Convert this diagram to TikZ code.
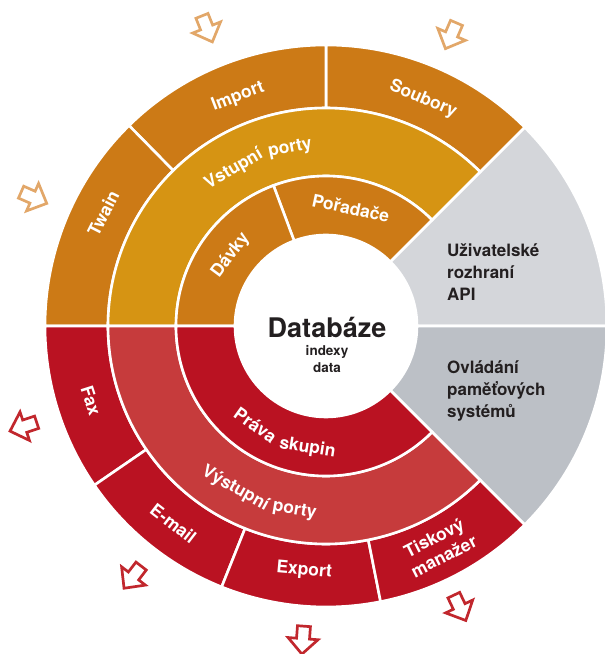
\documentclass[tikz,border=0pt]{standalone}
\usepackage{fontspec}
\setmainfont{TeX Gyre Heros}
\definecolor{orangeA}{HTML}{CC7A16}
\definecolor{orangeB}{HTML}{D69413}
\definecolor{redA}{HTML}{BA1222}
\definecolor{redB}{HTML}{C63B3C}
\definecolor{grayA}{HTML}{D4D6DA}
\definecolor{grayB}{HTML}{BCC0C6}
\definecolor{arrO}{HTML}{E2A769}
\definecolor{arrR}{HTML}{C1272D}
\definecolor{txtD}{HTML}{231F20}
\newcommand\lblfont{\fontsize{17.5}{20}\selectfont\bfseries}
\newcommand\ringsect[5]{%
  \filldraw[fill=#1, draw=white, line width=2.6pt, line join=miter]
   (#2:#4) arc[start angle=#2, end angle=#3, radius=#4] -- (#3:#5)
   arc[start angle=#3, end angle=#2, radius=#5] -- cycle;}
\newcommand\blockarrow[4]{%
  \draw[#3, line width=2.7pt, line join=miter, shift={(#1:#2)}, rotate={#1+#4}]
   (-14,6.5) -- (-1.5,6.5) -- (-1.5,15) -- (14,0) -- (-1.5,-15) -- (-1.5,-6.5) -- (-14,-6.5) -- cycle;}
\tikzset{graytxt/.style={anchor=base west, inner sep=0pt, text=txtD,
  font=\fontsize{17}{20}\selectfont\bfseries},
  centertxt/.style={anchor=base, inner sep=0pt, text=txtD},
  lbl/.style={anchor=base, inner sep=0pt, text=white, font=\lblfont}}
\begin{document}
\begin{tikzpicture}[x=1pt,y=1pt]
\useasboundingbox (-326,-328) rectangle (279,326);
% gray
\ringsect{grayA}{0}{45}{91}{281}
\ringsect{grayB}{-45}{0}{91}{281}
% top half
\ringsect{orangeA}{45}{90}{218}{281}
\ringsect{orangeA}{90}{134.5}{218}{281}
\ringsect{orangeA}{134.5}{180}{218}{281}
\ringsect{orangeB}{45}{180}{150}{218}
\ringsect{orangeA}{45}{110.5}{91}{150}
\ringsect{orangeA}{110.5}{180}{91}{150}
% bottom half
\ringsect{redA}{180}{214.5}{218}{281}
\ringsect{redA}{214.5}{248.2}{218}{281}
\ringsect{redA}{248.2}{281.2}{218}{281}
\ringsect{redA}{281.2}{315}{218}{281}
\ringsect{redB}{180}{315}{150}{218}
\ringsect{redA}{180}{315}{91}{150}
% labels on rings (top half)
\node[lbl, rotate=21] (imp) at (111:241) {Import};
\node[lbl, rotate=-23.2] (sou) at (66.8:242) {Soubory};
\node[lbl, rotate=63.2] (twa) at (153.2:243) {Twain};
\node[lbl, rotate=30.48] (vst1) at (120.48:177) {Vstupní};
\node[lbl, rotate=11.41] (vst2) at (101.41:177) {porty};
\node[lbl, rotate=53.5] (dav) at (143.5:114) {Dávky};
\node[lbl, rotate=-11.9] (por) at (78.1:114) {Pořadače};
% labels on rings (bottom half)
\node[lbl, rotate=-72.3] (fax) at (197.7:253) {Fax};
\node[lbl, rotate=-37.7] (eml) at (232.3:256) {E-mail};
\node[lbl, rotate=-5.1] (exp) at (264.9:250) {Export};
\node[lbl, rotate=27] (tis1) at (297:244) {Tiskový};
\node[lbl, rotate=27.1] (tis2) at (297.1:265) {manažer};
\node[lbl, rotate=-29.14] (vys1) at (240.86:191) {Výstupní};
\node[lbl, rotate=-9.71] (vys2) at (260.29:191) {porty};
\node[lbl, rotate=-35.49] (pra1) at (234.51:128) {Práva};
\node[lbl, rotate=-8.66] (pra2) at (261.34:128) {skupin};
% center
\node[centertxt, font=\fontsize{27}{27}\selectfont\bfseries] (db) at (1,-11) {Databáze};
\node[centertxt, font=\fontsize{13.5}{14}\selectfont\bfseries] (idx) at (1,-29) {indexy};
\node[centertxt, font=\fontsize{13.5}{14}\selectfont\bfseries] (dat) at (1,-46) {data};
% gray texts
\node[graytxt] (g1) at (121,70) {Uživatelské};
\node[graytxt] (g2) at (121,48) {rozhraní};
\node[graytxt] (g3) at (121,26) {API};
\node[graytxt] (g4) at (121,-47) {Ovládání};
\node[graytxt] (g5) at (121,-69) {paměťových};
\node[graytxt] (g6) at (121,-91) {systémů};
% arrows
\blockarrow{111.8}{320}{arrO}{180}
\blockarrow{66.7}{316}{arrO}{180}
\blockarrow{156.3}{319}{arrO}{180}
\blockarrow{198.4}{319}{arrR}{0}
\blockarrow{232.4}{317}{arrR}{0}
\blockarrow{265.8}{315}{arrR}{0}
\blockarrow{295.4}{312}{arrR}{0}
\end{tikzpicture}
\end{document}
